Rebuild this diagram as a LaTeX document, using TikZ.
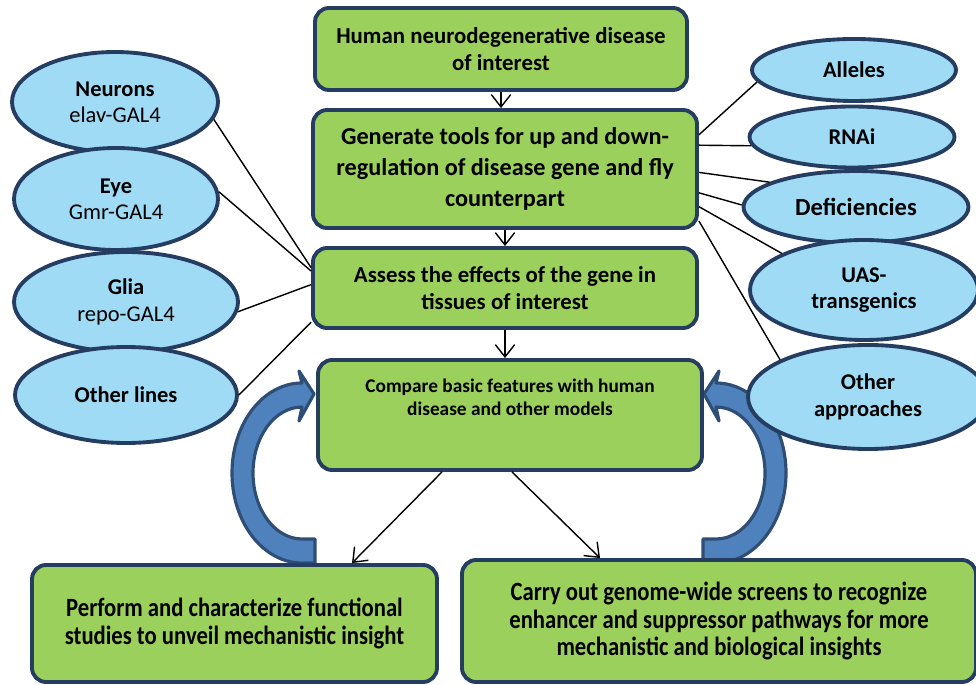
\documentclass[tikz,border=0pt]{standalone}
\usepackage{fontspec}
\setmainfont{Carlito}
\newfontfamily\narrowfont{Carlito}[FakeStretch=0.86]
\usepackage{tikz}
\usetikzlibrary{positioning, arrows.meta, shapes.geometric, calc}

\definecolor{leaf}{RGB}{155,208,92}
\definecolor{ink}{RGB}{37,61,97}
\definecolor{sky}{RGB}{160,219,246}
\definecolor{steel}{RGB}{79,129,189}
\definecolor{steeldark}{RGB}{47,78,118}

\begin{document}
\begin{tikzpicture}[
  stage/.style={draw=ink, line width=2.2pt, fill=leaf, rounded corners=8pt,
                align=center, inner sep=0pt,
                font=\bfseries\fontsize{13}{15}\selectfont},
  tool/.style={ellipse, draw=ink, line width=2.2pt, fill=sky, inner sep=0pt,
               align=center, font=\fontsize{12.8}{15}\selectfont},
  link/.style={line width=0.8pt},
  flow/.style={line width=0.8pt, -{Straight Barb[length=7pt, width=11pt]}},
  loopband/.style={fill=steel, draw=steeldark, line width=1.8pt, line join=round},
]
  \useasboundingbox (0,0) rectangle (19.52,13.68);

  % blue loop arrows
  \path[loopband] (6.04,5.54) arc[start angle=90, end angle=270, x radius=0.98, y radius=1.32]
    -- (6.30,2.90) -- (6.30,2.42) -- (6.04,2.42)
    arc[start angle=270, end angle=90, x radius=1.40, y radius=1.80]
    -- (5.98,6.26) -- (6.28,5.80) -- (5.98,5.26) -- cycle;
  \begin{scope}[xshift=20.36cm, xscale=-1]
    \path[loopband] (6.04,5.54) arc[start angle=90, end angle=270, x radius=0.98, y radius=1.32]
      -- (6.30,2.90) -- (6.30,2.42) -- (6.04,2.42)
      arc[start angle=270, end angle=90, x radius=1.40, y radius=1.80]
      -- (5.98,6.26) -- (6.28,5.80) -- (5.98,5.26) -- cycle;
  \end{scope}

  % main column
  \node[stage, minimum width=7.44cm, minimum height=1.64cm] (human) at (10.02,12.70)
    {Human neurodegenerative disease\\ of interest};
  \node[stage, minimum width=7.68cm, minimum height=2.36cm,
        font=\bfseries\fontsize{13.8}{17.5}\selectfont] (tools) at (10.10,10.30)
    {Generate tools for up and down-\\regulation of disease gene and fly\\counterpart};
  \node[stage, minimum width=7.68cm, minimum height=1.60cm] (assess) at (10.10,7.92)
    {Assess the effects of the gene in\\ tissues of interest};
  \node[stage, minimum width=7.68cm, minimum height=2.20cm,
        font=\bfseries\fontsize{11}{13}\selectfont] (compare) at (10.20,5.38)
    {Compare basic features with human\\ disease and other models\\[0.25cm]\mbox{}};
  \node[stage, minimum width=8.10cm, minimum height=2.34cm,
        font=\narrowfont\bfseries\fontsize{15}{15.5}\selectfont] (perform) at (4.69,1.21)
    {Perform and characterize functional\\ studies to unveil mechanistic insight};
  \node[stage, minimum width=10.28cm, minimum height=2.44cm,
        font=\narrowfont\bfseries\fontsize{15}{15.5}\selectfont] (screen) at (14.38,1.26)
    {Carry out genome-wide screens to recognize\\ enhancer and suppressor pathways for more\\ mechanistic and biological insights};

  % tissues
  \node[tool, minimum width=4.12cm, minimum height=2.00cm] (neurons) at (2.30,11.64)
    {\textbf{Neurons}\\ elav-GAL4};
  \node[tool, minimum width=4.08cm, minimum height=2.04cm] (eye) at (2.32,9.70)
    {\textbf{Eye}\\ Gmr-GAL4};
  \node[tool, minimum width=4.48cm, minimum height=2.00cm] (glia) at (2.52,7.64)
    {\textbf{Glia}\\ repo-GAL4};
  \node[tool, minimum width=4.44cm, minimum height=1.92cm] (otherlines) at (2.52,5.78)
    {\textbf{Other lines}};

  % fly tools
  \node[tool, minimum width=4.08cm, minimum height=1.24cm] (alleles) at (17.08,12.28)
    {\textbf{Alleles}};
  \node[tool, minimum width=4.10cm, minimum height=1.22cm] (rnai) at (17.04,10.94)
    {\textbf{RNAi}};
  \node[tool, minimum width=4.50cm, minimum height=1.44cm,
        font=\fontsize{14}{16}\selectfont] (defic) at (17.12,9.54)
    {\textbf{Deficiencies}};
  \node[tool, minimum width=4.56cm, minimum height=2.00cm] (uas) at (17.28,7.88)
    {\textbf{UAS-}\\ \textbf{transgenics}};
  \node[tool, minimum width=4.80cm, minimum height=2.08cm] (otherapp) at (17.36,5.74)
    {\textbf{Other}\\ \textbf{approaches}};

  % links
  \draw[link] (neurons.-10) -- (assess.174);
  \draw[link] (eye.4) -- (assess.175.5);
  \draw[link] (glia.-5) -- (assess.179);
  \draw[link] (otherlines.0) -- (assess.190);
  \draw[link] (tools.10) -- (alleles.187.5);
  \draw[link] (tools.7) -- (rnai.185);
  \draw[link] (tools.-1) -- (defic.164);
  \draw[link] (tools.-7) -- (defic.179);
  \draw[link] (tools.-11.4) -- (uas.156);
  \draw[link] (tools.-15.8) -- (otherapp.157);

  % flow
  \draw[flow] (human.south) -- (human.south |- tools.north);
  \draw[flow] (tools.south) -- (tools.south |- assess.north);
  \draw[flow] (assess.south) -- (assess.south |- compare.north);
  \draw[flow] ([xshift=-1.36cm]compare.south) -- ([xshift=2.35cm]perform.north);
  \draw[flow] ([xshift=0.04cm]compare.south) -- ([xshift=-2.38cm]screen.north);
\end{tikzpicture}
\end{document}
